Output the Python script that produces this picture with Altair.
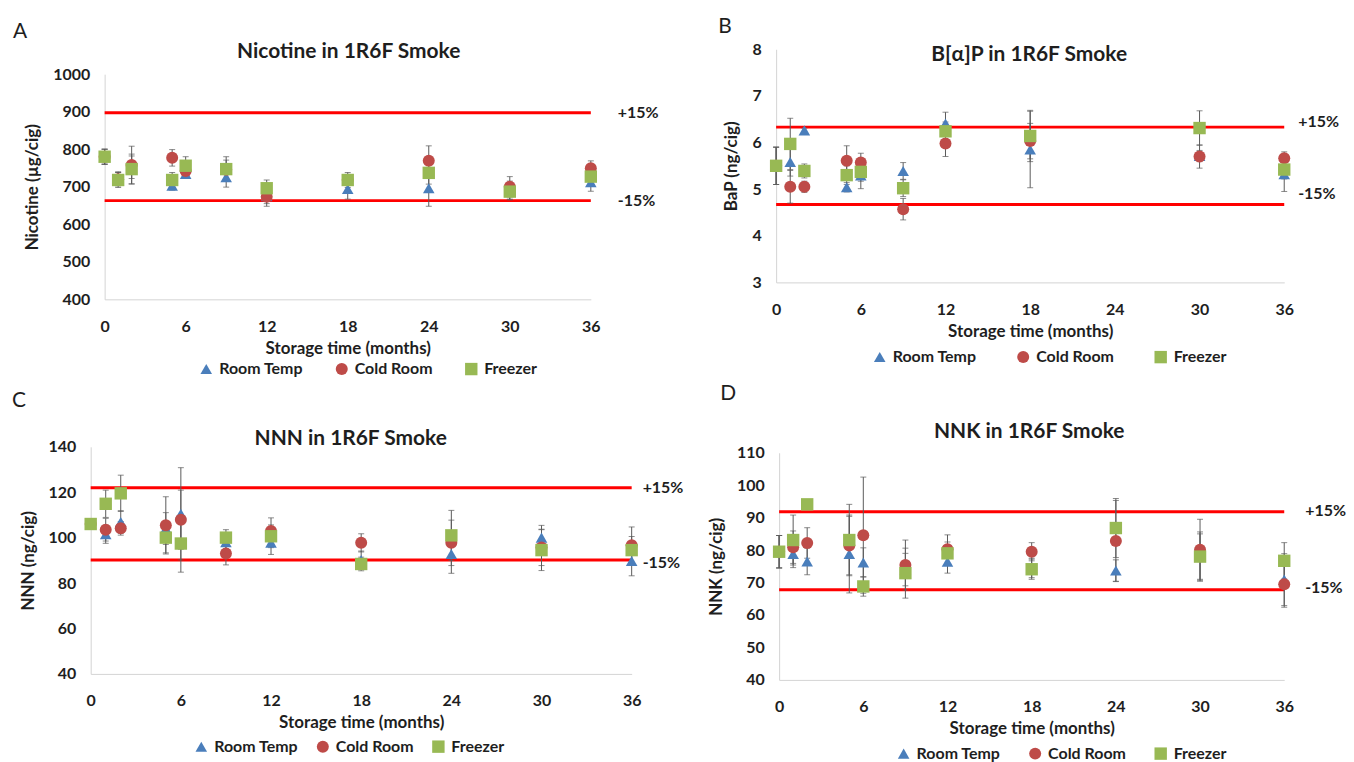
import altair as alt
import pandas as pd

SERIES = ["Room Temp", "Cold Room", "Freezer"]
COLORS = ["#4A7EBB", "#BE4B48", "#98B954"]
SHAPES = ["triangle-up", "circle", "square"]
SIZES = [135, 155, 135]
FONT = "Lato"
TXT = "#1e1e1e"
ERR = "#5a5a5a"
AXC = "#d4d4d4"
CW, CH = 1338, 746  # drawing canvas (page minus 8px margins)

# ---------------- data ----------------
months_all = [0, 1, 2, 5, 6, 9, 12, 18, 24, 30, 36]
months_bap = [0, 1, 2, 5, 6, 9, 12, 18, 30, 36]

nic_room = [780, 722, 752, 703, 734, 725, 675, 694, 696, 690, 712]
nic_room_sd = [20, 18, 30, 12, 12, 26, 20, 27, 48, 25, 24]
nic_cold = [780, 720, 758, 777, 742, 745, 673, 718, 769, 700, 749]
nic_cold_sd = [20, 18, 50, 22, 15, 26, 25, 15, 40, 27, 20]
nic_frz = [780, 718, 747, 718, 756, 747, 696, 718, 737, 687, 727]
nic_frz_sd = [20, 20, 40, 20, 24, 33, 22, 20, 30, 20, 20]
nic_limits = [897, 663]

bap_room = [5.50, 5.58, 6.26, 5.04, 5.29, 5.39, 6.41, 5.85, 5.71, 5.32]
bap_room_sd = [0.40, 0.30, 0.05, 0.10, 0.28, 0.18, 0.24, 0.82, 0.12, 0.37]
bap_cold = [5.50, 5.05, 5.05, 5.61, 5.57, 4.57, 5.98, 6.03, 5.70, 5.66]
bap_cold_sd = [0.40, 0.35, 0.12, 0.32, 0.20, 0.23, 0.28, 0.38, 0.25, 0.14]
bap_frz = [5.50, 5.97, 5.39, 5.30, 5.37, 5.02, 6.24, 6.14, 6.31, 5.42]
bap_frz_sd = [0.40, 0.55, 0.15, 0.20, 0.20, 0.18, 0.20, 0.55, 0.37, 0.20]
bap_limits = [6.33, 4.67]

nnn_room = [106, 101.5, 106.9, 104, 110.5, 98, 97.8, 90.1, 92.8, 100, 89.7]
nnn_room_sd = [2, 4, 5, 7, 20.3, 3, 5.2, 4, 8.5, 5.4, 6.5]
nnn_cold = [106, 103.5, 104.1, 105.4, 107.9, 93, 102.9, 97.7, 97.7, 95.7, 96.7]
nnn_cold_sd = [2, 5, 3, 12.6, 13, 5, 5.8, 4, 10, 8, 8]
nnn_frz = [106, 114.9, 119.5, 100, 97.4, 100, 100.6, 88.4, 101, 94.5, 94.5]
nnn_frz_sd = [2, 6, 8, 6.7, 12.6, 3.5, 5, 3, 11, 9, 6]
nnn_limits = [122, 90.2]

nnk_room = [79.5, 78.8, 76.5, 78.8, 76.2, 74, 76.4, 74.5, 73.7, 78, 70.9]
nnk_room_sd = [5, 4.2, 4.1, 12, 4.5, 5, 3.5, 3, 3.3, 7, 8]
nnk_cold = [79.5, 80.9, 82.2, 81.4, 84.6, 75.4, 80.3, 79.5, 82.8, 80.1, 69.5]
nnk_cold_sd = [5, 5, 4.7, 9, 17.9, 7.7, 4.4, 2.8, 12.5, 9.4, 7.1]
nnk_frz = [79.5, 83.1, 94.1, 83.1, 68.8, 72.9, 79, 74.1, 86.8, 78, 76.7]
nnk_frz_sd = [5, 7.7, 1.2, 11, 3, 7.7, 3.5, 3.1, 9.1, 7.6, 5.6]
nnk_limits = [91.8, 67.8]

x_ticks = [0, 6, 12, 18, 24, 30, 36]
x_domain = [0, 36]
limit_labels = ["+15%", "-15%"]


def long_df(months, vals, sds):
    rows = []
    for k, (name, v, sd) in enumerate(zip(SERIES, vals, sds)):
        for m, y, e in zip(months, v, sd):
            rows.append({"month": m, "value": y, "lo": y - e, "hi": y + e,
                         "series": name, "k": k})
    return pd.DataFrame(rows)


def panel(p):
    x0, x1, yb, yt = p["box"]
    df = long_df(p["months"], p["vals"], p["sds"])
    xs = alt.Scale(domain=x_domain, range=[x0, x1], nice=False, zero=False)
    ys = alt.Scale(domain=p["ydom"], range=[yb, yt], nice=False, zero=False)
    xaxis = alt.Axis(orient="bottom", offset=yb - CH, values=x_ticks,
                     title="Storage time (months)", grid=False, ticks=False, tickSize=0,
                     domainColor=AXC, domainWidth=1, labelFont=FONT, labelFontSize=16,
                     labelFontWeight="bold", labelColor=TXT, labelPadding=19,
                     labelFlush=False, titleFont=FONT, titleFontSize=17,
                     titleFontWeight="bold", titleColor=TXT, titlePadding=6)
    yaxis = alt.Axis(orient="left", offset=-x0, values=p["yticks"], format="d",
                     title=p["ytitle"], grid=False, ticks=False, tickSize=0,
                     domainColor=AXC, domainWidth=1, labelFont=FONT, labelFontSize=16,
                     labelFontWeight="bold", labelColor=TXT, labelPadding=15,
                     labelFlush=False, titleFont=FONT, titleFontSize=17,
                     titleFontWeight="bold", titleColor=TXT, titlePadding=11)

    def X(f):
        return alt.X(f + ":Q", scale=xs, axis=xaxis)

    def Y(f):
        return alt.Y(f + ":Q", scale=ys, axis=yaxis)

    one = pd.DataFrame({"t": [0]})
    lim_df = pd.DataFrame({"v": p["limits"], "label": limit_labels})
    lines = alt.Chart(lim_df).mark_rule(color="#FF0000", strokeWidth=3).encode(
        x=alt.X(datum=x_domain[0], type="quantitative", scale=xs, axis=xaxis),
        x2=alt.X2(datum=x_domain[1]),
        y=Y("v"))
    lab_layers = []
    for i in range(2):
        lab_layers.append(
            alt.Chart(lim_df.iloc[[i]]).mark_text(
                align="left", baseline="middle", font=FONT, fontSize=16,
                fontWeight="bold", color=TXT, dy=p["ldy"][i]
            ).encode(x=alt.value(p["lab_x"]), y=Y("v"), text="label:N"))

    base = alt.Chart(df)
    err = base.mark_rule(color=ERR, strokeWidth=1).encode(x=X("month"), y=Y("lo"), y2="hi:Q")
    cap_lo = base.mark_tick(color=ERR, orient="horizontal", size=6, thickness=1).encode(
        x=X("month"), y=Y("lo"))
    cap_hi = base.mark_tick(color=ERR, orient="horizontal", size=6, thickness=1).encode(
        x=X("month"), y=Y("hi"))

    leg = alt.Legend(title=None, orient="none", legendX=p["leg"][0], legendY=p["leg"][1],
                     direction="horizontal", labelFont=FONT, labelFontSize=16,
                     labelFontWeight="bold", labelColor=TXT, symbolSize=125,
                     columnPadding=p["colpad"], labelOffset=5, padding=0,
                     symbolStrokeWidth=0)
    pts = base.mark_point(filled=True, opacity=1, strokeWidth=0).encode(
        x=X("month"), y=Y("value"),
        color=alt.Color("series:N", scale=alt.Scale(domain=SERIES, range=COLORS), legend=leg),
        shape=alt.Shape("series:N", scale=alt.Scale(domain=SERIES, range=SHAPES), legend=leg),
        size=alt.Size("series:N", scale=alt.Scale(domain=SERIES, range=SIZES), legend=None),
        order=alt.Order("k:Q"),
    )

    tx, ty = p["title_pos"]
    title = alt.Chart(one).mark_text(text=p["title"], font=FONT, fontSize=21,
                                     fontWeight="bold", color=TXT, align="center",
                                     baseline="middle").encode(x=alt.value(tx), y=alt.value(ty))
    lx_, ly_ = p["letter_pos"]
    letter = alt.Chart(one).mark_text(text=p["letter"], font=FONT, fontSize=21,
                                      fontWeight="normal", color=TXT, align="left",
                                      baseline="alphabetic").encode(x=alt.value(lx_), y=alt.value(ly_))

    return alt.layer(lines, err, cap_lo, cap_hi, pts, *lab_layers, title, letter)


# panel boxes are given in canvas pixels: (x of month 0, x of month 36, y of axis min, y of axis max)
pA = dict(box=(97, 585, 291, 65), months=months_all, vals=[nic_room, nic_cold, nic_frz],
          sds=[nic_room_sd, nic_cold_sd, nic_frz_sd], ydom=[400, 1000],
          yticks=list(range(400, 1001, 100)), ytitle="Nicotine (µg/cig)",
          limits=nic_limits, title="Nicotine in 1R6F Smoke", title_pos=(342, 43),
          letter="A", letter_pos=(5, 29), leg=(191, 353), colpad=30,
          lab_x=612, ldy=[0, 0])
pB = dict(box=(771, 1281, 274, 40), months=months_bap, vals=[bap_room, bap_cold, bap_frz],
          sds=[bap_room_sd, bap_cold_sd, bap_frz_sd], ydom=[3, 8],
          yticks=[3, 4, 5, 6, 7, 8], ytitle="BaP (ng/cig)",
          limits=bap_limits, title="B[α]P in 1R6F Smoke", title_pos=(1025, 46),
          letter="B", letter_pos=(713, 24), leg=(867, 341), colpad=38,
          lab_x=1295, ldy=[-5, -11])
pC = dict(box=(83, 626, 667, 439), months=months_all, vals=[nnn_room, nnn_cold, nnn_frz],
          sds=[nnn_room_sd, nnn_cold_sd, nnn_frz_sd], ydom=[40, 140],
          yticks=list(range(40, 141, 20)), ytitle="NNN (ng/cig)",
          limits=nnn_limits, title="NNN in 1R6F Smoke", title_pos=(344, 431),
          letter="C", letter_pos=(4, 399), leg=(186, 732), colpad=16,
          lab_x=637, ldy=[0, 3])
pD = dict(box=(774, 1281, 673, 445), months=months_all, vals=[nnk_room, nnk_cold, nnk_frz],
          sds=[nnk_room_sd, nnk_cold_sd, nnk_frz_sd], ydom=[40, 110],
          yticks=list(range(40, 111, 10)), ytitle="NNK (ng/cig)",
          limits=nnk_limits, title="NNK in 1R6F Smoke", title_pos=(1025, 424),
          letter="D", letter_pos=(715, 392), leg=(891, 739), colpad=26,
          lab_x=1302, ldy=[-1, -2])

chart = alt.layer(panel(pA), panel(pB), panel(pC), panel(pD)).resolve_scale(
    x="independent", y="independent", color="independent", shape="independent",
    size="independent"
).resolve_axis(x="independent", y="independent").resolve_legend(
    color="independent", shape="independent", size="independent"
).properties(width=CW, height=CH, padding=0, background="white").configure(
    padding=0).configure_view(stroke=None)

chart.save("out.html", embed_options={"renderer": "svg", "actions": False})
